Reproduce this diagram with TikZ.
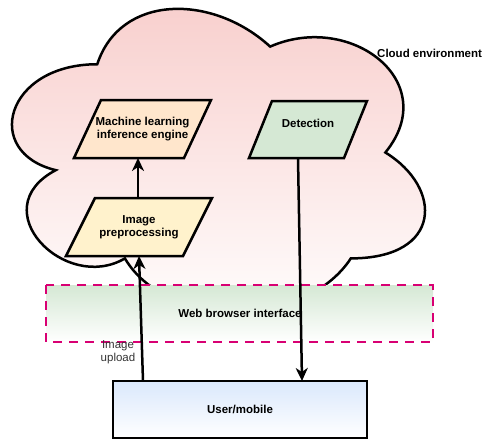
\documentclass[tikz,border=0pt]{standalone}
\usepackage{fontspec}
\setmainfont{Liberation Sans}
\usetikzlibrary{arrows.meta}
\definecolor{cloudpink}{HTML}{F8CECC}
\definecolor{webgreen}{HTML}{D5E8D4}
\definecolor{mlpeach}{HTML}{FFE6CC}
\definecolor{preyellow}{HTML}{FFF2CC}
\definecolor{userblue}{HTML}{DAE8FC}
\definecolor{dashmag}{HTML}{D80073}
\definecolor{labelgray}{HTML}{333333}
\tikzset{
  shapeline/.style={draw=black, line width=2.5pt, line join=miter},
  lbl/.style={font=\fontsize{11.5}{13}\selectfont\bfseries, align=center, inner sep=0pt},
  conn/.style={draw=black, line width=2.5pt, -{Stealth[length=13pt,width=12pt,inset=4pt]}},
}
\begin{document}
\begin{tikzpicture}[x=1pt,y=-1pt]
\useasboundingbox (0,0) rectangle (483,439);
% cloud
\begin{scope}[shift={(-18,-24)}, x=461pt, y=-353pt]
\path[shapeline, top color=cloudpink, bottom color=white]
  (0.25,0.25) .. controls (0.05,0.25) and (0,0.5) .. (0.16,0.55)
  .. controls (0,0.66) and (0.18,0.9) .. (0.31,0.8)
  .. controls (0.4,1) and (0.7,1) .. (0.8,0.8)
  .. controls (1,0.8) and (1,0.6) .. (0.875,0.5)
  .. controls (1,0.3) and (0.8,0.1) .. (0.625,0.2)
  .. controls (0.5,0.05) and (0.3,0.05) .. (0.25,0.25) -- cycle;
\end{scope}
\node[lbl, anchor=west] (cloudlbl) at (377,53) {Cloud environment};
% web browser interface
\path[top color=webgreen, bottom color=white] (46,285) rectangle (433,342);
\draw[dashmag, line width=2.8pt, dash pattern=on 9pt off 7pt] (46,285) rectangle (433,342);
\node[lbl] (web) at (240,313) {Web browser interface};
% parallelograms
\path[shapeline, fill=mlpeach] (101,100) -- (211,100) -- (184,158) -- (74,158) -- cycle;
\node[lbl, minimum width=110pt, minimum height=58pt] (ml) at (142.5,129) {Machine learning\\inference engine};
\path[shapeline, fill=webgreen] (272,101) -- (367,101) -- (344,158) -- (249,158) -- cycle;
\node[lbl, minimum width=95pt, minimum height=57pt] (det) at (308,129.5) {};
\node[lbl] (detlbl) at (308,123.5) {Detection};
\path[shapeline, fill=preyellow] (95,198) -- (212,198) -- (183,256) -- (66,256) -- cycle;
\node[lbl, minimum width=117pt, minimum height=58pt] (pre) at (139,227) {Image\\preprocessing};
% user
\node[shapeline, top color=userblue, bottom color=white, minimum width=254pt, minimum height=57pt, inner sep=0pt,
      font=\fontsize{11.5}{13}\selectfont\bfseries] (user) at (240,409.5) {User/mobile};
% connectors
\coordinate (preTop) at (138,198);
\coordinate (mlBot) at (138,158);
\coordinate (preBot) at (139,256);
\coordinate (userL) at (143,381);
\coordinate (detBot) at (298,158);
\coordinate (userR) at (302,381);
\draw[conn] (preTop) -- (mlBot);
\draw[conn] (userL) -- (preBot);
\draw[conn] (detBot) -- (userR);
\node[font=\fontsize{11.5}{13}\selectfont, text=labelgray, align=center, inner sep=0pt] (uplbl) at (118,352.5) {Image\\upload};
\end{tikzpicture}
\end{document}
